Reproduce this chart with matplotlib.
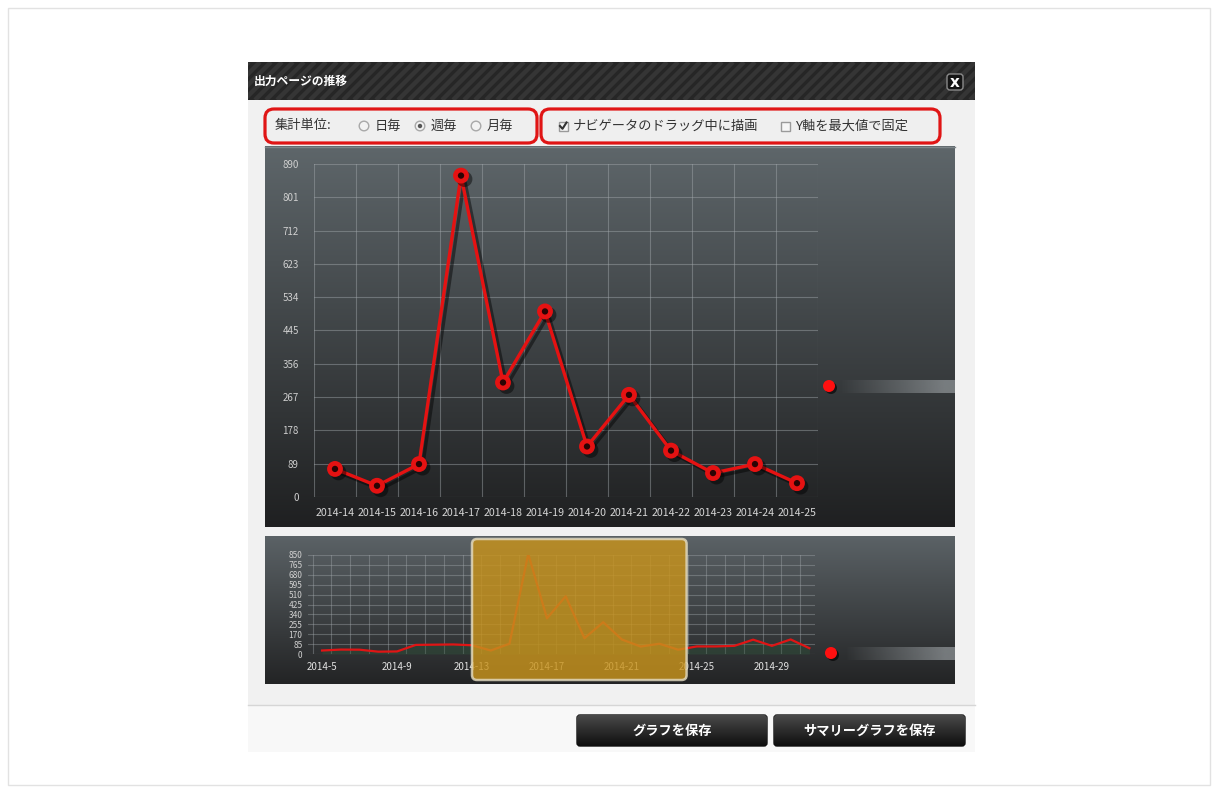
import numpy as np
import matplotlib
matplotlib.use('Agg')
import matplotlib.pyplot as plt
from matplotlib.patches import Rectangle, FancyBboxPatch, Circle
from matplotlib.colors import to_rgb
import matplotlib.patheffects as pe
from matplotlib.ticker import FixedLocator

plt.rcParams['font.family'] = ['Noto Sans CJK JP', 'DejaVu Sans']

# ---------------- data ----------------
weeks = ['2014-14', '2014-15', '2014-16', '2014-17', '2014-18', '2014-19',
         '2014-20', '2014-21', '2014-22', '2014-23', '2014-24', '2014-25']
page_counts = [75, 30, 88, 859, 306, 496, 135, 273, 124, 64, 88, 37]
main_y_ticks = [0, 89, 178, 267, 356, 445, 534, 623, 712, 801, 890]

nav_weeks = list(range(5, 32))
nav_counts = [30, 38, 37, 20, 22, 78, 80, 82, 75, 30, 88, 859, 306, 496, 135,
              273, 124, 64, 88, 37, 65, 65, 70, 123, 70, 125, 50]
nav_tick_weeks = [5, 9, 13, 17, 21, 25, 29]
nav_tick_labels = ['2014-5', '2014-9', '2014-13', '2014-17', '2014-21', '2014-25', '2014-29']
nav_y_ticks = [0, 85, 170, 255, 340, 425, 510, 595, 680, 765, 850]
selection = (13.0, 24.45)

title = '出力ページの推移'
unit_label = '集計単位:'
unit_options = ['日毎', '週毎', '月毎']
check_options = ['ナビゲータのドラッグ中に描画', 'Y軸を最大値で固定']
buttons = ['グラフを保存', 'サマリーグラフを保存']

# ---------------- figure ----------------
W, H = 1218, 792
fig = plt.figure(figsize=(W / 100, H / 100), dpi=100)
fig.patch.set_facecolor('white')


def fig_rect(x0, y0, x1, y1):
    return [x0 / W, 1 - y1 / H, (x1 - x0) / W, (y1 - y0) / H]


bg = fig.add_axes([0, 0, 1, 1], zorder=0)
bg.axis('off')


def vgrad(ax, x0, y0, x1, y1, c_top, c_bot, z=1, clip=None):
    t = np.linspace(0, 1, 256)[:, None, None]
    ct = np.array(to_rgb(c_top))[None, None, :]
    cb = np.array(to_rgb(c_bot))[None, None, :]
    arr = ct * (1 - t) + cb * t
    im = ax.imshow(arr, extent=(x0, x1, y1, y0), aspect='auto', zorder=z,
                   interpolation='bilinear')
    if clip is not None:
        im.set_clip_path(clip)
    return im


def hfade(ax, x0, y0, x1, y1, color, z=3):
    t = np.linspace(0, 1, 256)[None, :]
    c = np.array(to_rgb(color))
    arr = np.zeros((1, 256, 4))
    arr[..., :3] = c
    arr[..., 3] = np.clip(t * 1.1, 0, 1) * 0.75
    ax.imshow(arr, extent=(x0, x1, y1, y0), aspect='auto', zorder=z,
              interpolation='bilinear')


# page border
bg.add_patch(Rectangle((8, 8), 1202, 777, fill=False, ec='#e2e2e2', lw=1, zorder=0.5))

# dialog body
bg.add_patch(Rectangle((248, 62), 727, 643, fc='#f1f1f1', ec='none', zorder=0.6))
bg.add_patch(Rectangle((248, 705), 727, 47, fc='#f8f8f8', ec='none', zorder=0.6))
bg.plot([248, 975], [705, 705], color='#d6d6d6', lw=1, zorder=0.7)

# title bar with stripes
tb = Rectangle((248, 62), 727, 38, fc='#262626', ec='none', zorder=1)
bg.add_patch(tb)
for xs in np.arange(200, 1000, 11):
    ln, = bg.plot([xs, xs + 38], [100, 62], color='#353535', lw=3.2, zorder=1.1,
                  solid_capstyle='butt')
    ln.set_clip_path(tb)
bg.text(254, 81, title, color='white', fontsize=8.5, fontweight='bold',
        va='center', ha='left', zorder=2)
bg.add_patch(FancyBboxPatch((947, 74), 16, 16, boxstyle='round,pad=0,rounding_size=3',
                            fc='#151515', ec='#8a8a8a', lw=1, zorder=2))
bg.text(955, 82.5, 'x', color='white', fontsize=11, fontweight='bold',
        ha='center', va='center', family='DejaVu Sans', zorder=3)

# option bar
for (x0, x1) in [(265, 537), (541, 940)]:
    bg.add_patch(FancyBboxPatch((x0, 109), x1 - x0, 34,
                                boxstyle='round,pad=0,rounding_size=9',
                                fc='#efefef', ec='#e01515', lw=2.3, zorder=2))
ty = 126
bg.text(275, ty, unit_label, fontsize=9.5, color='#333333', va='center', zorder=3)
radio_x = [364, 420, 476]
for i, (rx, lab) in enumerate(zip(radio_x, unit_options)):
    bg.add_patch(Circle((rx, ty), 4.8, fc='#f2f2f2', ec='#a8a8a8', lw=1, zorder=3))
    if i == 1:
        bg.add_patch(Circle((rx, ty), 2.2, fc='#555555', ec='none', zorder=4))
    bg.text(rx + 11, ty, lab, fontsize=9.5, color='#333333', va='center', zorder=3)

check_x = [563, 785]
for i, (cx, lab) in enumerate(zip(check_x, check_options)):
    bg.add_patch(Rectangle((cx - 4.5, ty - 4.5), 9, 9, fc='#f6f6f6', ec='#9a9a9a',
                           lw=1, zorder=3))
    if i == 0:
        bg.plot([cx - 3, cx - 0.5, cx + 3.5], [ty, ty + 2.8, ty - 3.5],
                color='#333333', lw=1.5, zorder=4)
    bg.text(cx + 10, ty, lab, fontsize=9.5, color='#333333', va='center', zorder=3)

# chart panels
vgrad(bg, 265, 146, 955, 527, '#5e666a', '#1f2021', z=1)
bg.plot([265, 955], [146.5, 146.5], color='#7d8589', lw=1, zorder=1.2)
vgrad(bg, 265, 536, 955, 684, '#5b6266', '#232425', z=1)

# series marker decorations on the right
for (cx, cy, bx0) in [(829, 386, 840), (831, 653, 845)]:
    bg.add_patch(Circle((cx + 2, cy + 2), 6, fc='black', ec='none', alpha=0.6, zorder=3))
    bg.add_patch(Circle((cx, cy), 6, fc='#ff1010', ec='none', zorder=4))
    hfade(bg, bx0, cy - 6, 955, cy + 7, '#8e9396', z=3)

# buttons
for (x0, x1, lab) in [(577, 767, buttons[0]), (774, 965, buttons[1])]:
    p = FancyBboxPatch((x0, 715), x1 - x0, 31, boxstyle='round,pad=0,rounding_size=3',
                       fc='#1a1a1a', ec='#111111', lw=1, zorder=2)
    bg.add_patch(p)
    vgrad(bg, x0, 715, x1, 746, '#4a4a4a', '#0e0e0e', z=2.1, clip=p)
    bg.text((x0 + x1) / 2, 731, lab, color='white', fontsize=9.5, fontweight='bold',
            ha='center', va='center', zorder=3)

bg.set_xlim(0, W)
bg.set_ylim(H, 0)

# ---------------- main chart ----------------
ax = fig.add_axes(fig_rect(314, 164, 818, 497), zorder=2)
ax.patch.set_alpha(0)
for s in ax.spines.values():
    s.set_visible(False)
x = np.arange(len(weeks))
ax.plot(x, page_counts, color='#e51212', lw=2.4, marker='o', ms=8,
        mfc='#2a0404', mec='#e51212', mew=3.4, zorder=3, clip_on=False,
        path_effects=[pe.SimpleLineShadow(offset=(2.5, -2.5), shadow_color='black',
                                          alpha=0.45), pe.Normal()])
ax.set_xlim(-0.5, len(weeks) - 0.5)
ax.set_ylim(0, 890)
ax.set_xticks(x, weeks)
ax.set_yticks(main_y_ticks)
ax.xaxis.set_minor_locator(FixedLocator(np.arange(-0.5, len(weeks), 1)))
ax.grid(which='minor', axis='x', color='#a3a9ad', alpha=0.45, lw=0.8)
ax.grid(which='major', axis='y', color='#a3a9ad', alpha=0.45, lw=0.8)
ax.tick_params(which='both', length=0)
ax.tick_params(axis='x', labelsize=7.6, labelcolor='#d6d6d6', pad=8)
ax.tick_params(axis='y', labelsize=7, labelcolor='#cfcfcf', pad=11)
ax.set_axisbelow(True)

# ---------------- navigator ----------------
nv = fig.add_axes(fig_rect(308, 555, 815, 654), zorder=2)
nv.patch.set_alpha(0)
for s in nv.spines.values():
    s.set_visible(False)
nv.fill_between(nav_weeks, nav_counts, color='#2d5a3a', alpha=0.35, lw=0, zorder=2)
nv.plot(nav_weeks, nav_counts, color='#e01515', lw=1.6, zorder=3)
nv.set_xlim(4.25, 31.3)
nv.set_ylim(0, 850)
nv.set_xticks(nav_tick_weeks, nav_tick_labels)
nv.set_yticks(nav_y_ticks)
nv.xaxis.set_minor_locator(FixedLocator(np.arange(4.5, 31.5, 1)))
nv.grid(which='minor', axis='x', color='#a3a9ad', alpha=0.4, lw=0.8)
nv.grid(which='major', axis='y', color='#a3a9ad', alpha=0.4, lw=0.8)
nv.tick_params(which='both', length=0)
nv.tick_params(axis='x', labelsize=7, labelcolor='#e2e2e2', pad=6)
nv.tick_params(axis='y', labelsize=6, labelcolor='#d0d0d0', pad=4)
nv.set_axisbelow(True)

# selection window (position derived from navigator data coordinates)
fig.canvas.draw()
sx0 = nv.transData.transform((selection[0], 0))[0]
sx1 = nv.transData.transform((selection[1], 0))[0]
sel = FancyBboxPatch((sx0, 539), sx1 - sx0, 141, boxstyle='round,pad=0,rounding_size=5',
                     fc='#c8931c', ec='#e4dcc2', lw=1.8, alpha=0.82,
                     transform=bg.transData, clip_on=False, zorder=6)
nv.add_patch(sel)

fig.savefig('out.png', dpi=100)
